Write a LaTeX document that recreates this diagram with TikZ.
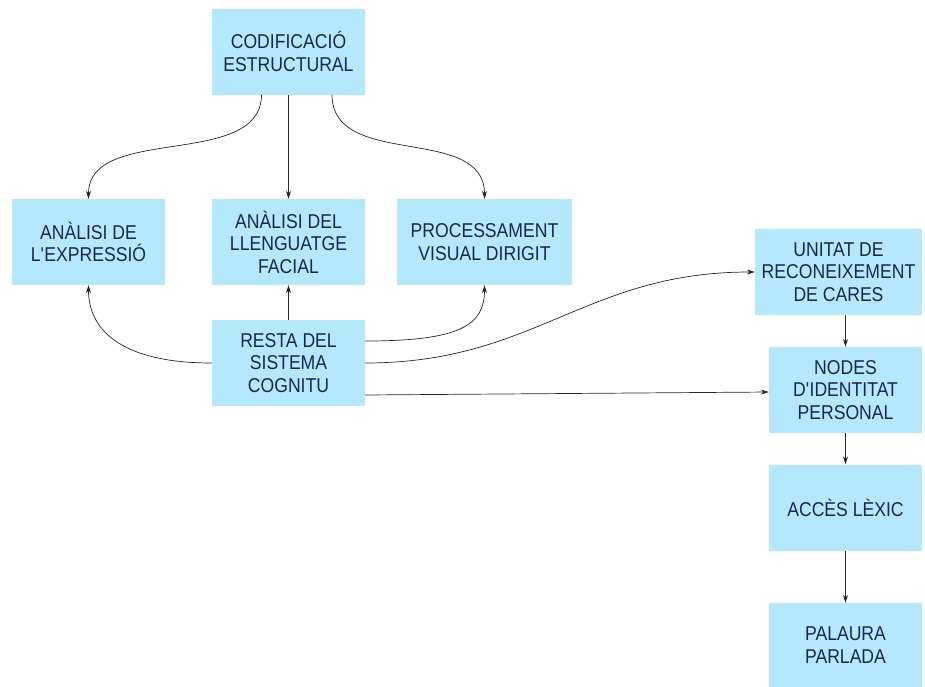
\documentclass[tikz,border=0pt]{standalone}
\usepackage{fontspec}
\setmainfont[FakeStretch=0.88]{Liberation Sans}
\usetikzlibrary{arrows.meta,calc}
\definecolor{boxfill}{RGB}{179,233,251}
\definecolor{txt}{RGB}{30,38,70}
\begin{document}
\begin{tikzpicture}[x=1pt,y=-1pt,
  box/.style={fill=boxfill,draw=none,inner sep=0pt,text=txt,align=center,
    font=\fontsize{20}{22.5}\selectfont,minimum height=86pt},
  arr/.style={draw=black!85,line width=0.7pt,-{Stealth[length=8pt,width=5pt]}}]
\useasboundingbox (0,0) rectangle (925,686);
\node[box,minimum width=153pt] (cod) at (288.5,51.5) {CODIFICACIÓ\\ESTRUCTURAL};
\node[box,minimum width=153pt] (ae) at (88.5,242) {ANÀLISI DE\\L\textquotesingle EXPRESSIÓ};
\node[box,minimum width=153pt] (alf) at (288.5,242) {ANÀLISI DEL\\LLENGUATGE\\FACIAL};
\node[box,minimum width=175pt] (pvd) at (484.5,242) {PROCESSAMENT\\VISUAL DIRIGIT};
\node[box,minimum width=153pt] (rsc) at (288.5,363) {RESTA DEL\\SISTEMA\\COGNITU};
\node[box,minimum width=167pt] (urc) at (838.5,272) {UNITAT DE\\RECONEIXEMENT\\DE CARES};
\node[box,minimum width=153pt] (nip) at (845.5,390) {NODES\\D\textquotesingle IDENTITAT\\PERSONAL};
\node[box,minimum width=153pt] (al) at (845.5,507.5) {ACCÈS LÈXIC};
\node[box,minimum width=153pt,minimum height=84pt] (pp) at (845.5,645) {PALAURA\\PARLADA};
% from CODIFICACIO
\draw[arr] ($(cod.south)+(-27,0)$) .. controls +(0,75) and +(0,-75) .. (ae.north);
\draw[arr] (cod.south) -- (alf.north);
\draw[arr] ($(cod.south)+(43.5,0)$) .. controls +(0,75) and +(0,-75) .. (pvd.north);
% from RESTA
\draw[arr] (rsc.west) .. controls +(-90,0) and +(0,45) .. (ae.south);
\draw[arr] (rsc.north) -- (alf.south);
\draw[arr] ($(rsc.east)+(0,-22)$) .. controls +(95,0) and +(0,40) .. (pvd.south);
\draw[arr] (rsc.east) .. controls +(170,0) and +(-170,0) .. (urc.west);
\draw[arr] ($(rsc.east)+(0,32)$) -- ($(nip.west)+(0,2)$);
% right column
\draw[arr] (nip.north |- urc.south) -- (nip.north);
\draw[arr] (nip.south) -- (al.north);
\draw[arr] (al.south) -- (pp.north);
\end{tikzpicture}
\end{document}
